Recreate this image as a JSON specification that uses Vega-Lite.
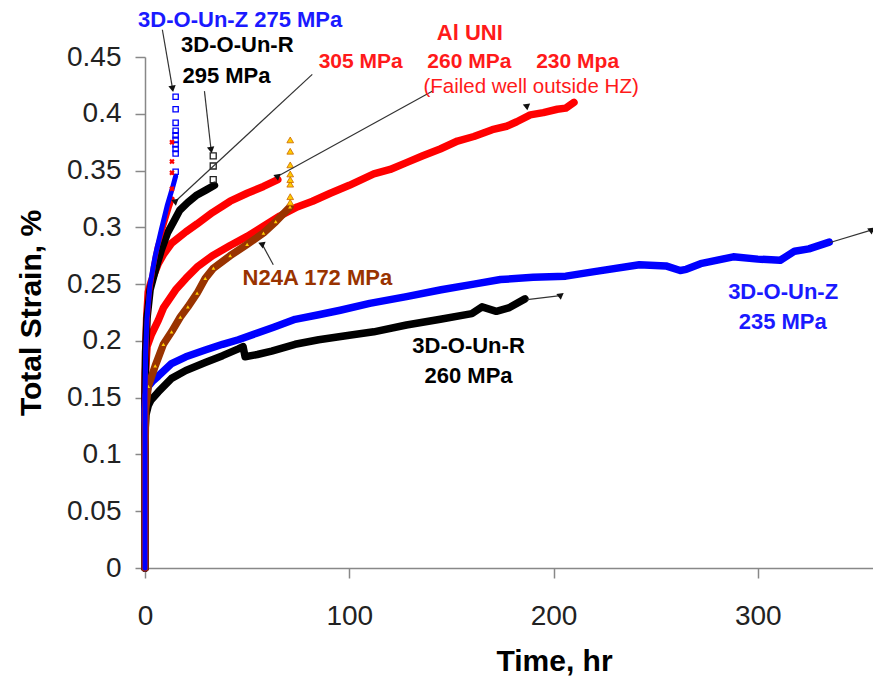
{
  "$schema": "https://vega.github.io/schema/vega-lite/v6.json",
  "width": 728,
  "height": 511,
  "autosize": {"type": "none"},
  "padding": {"left": 145, "top": 57, "right": 0, "bottom": 110},
  "background": "white",
  "config": {"view": {"stroke": null}, "font": "Liberation Sans"},
  "resolve": {"scale": {"color": "independent", "angle": "independent"}},
  "datasets": {
    "curves": [
      {"series": "A230", "t": 0, "s": 0}, {"series": "A230", "t": 0, "s": 0.14}, {"series": "A230", "t": 0.2, "s": 0.172}, {"series": "A230", "t": 1, "s": 0.195}, {"series": "A230", "t": 3, "s": 0.205}, {"series": "A230", "t": 6.5, "s": 0.218}, {"series": "A230", "t": 9, "s": 0.229}, {"series": "A230", "t": 15, "s": 0.245}, {"series": "A230", "t": 20, "s": 0.255}, {"series": "A230", "t": 25.5, "s": 0.265}, {"series": "A230", "t": 33, "s": 0.275}, {"series": "A230", "t": 41.7, "s": 0.284}, {"series": "A230", "t": 50, "s": 0.292}, {"series": "A230", "t": 58, "s": 0.301}, {"series": "A230", "t": 66, "s": 0.31}, {"series": "A230", "t": 74.5, "s": 0.318}, {"series": "A230", "t": 82, "s": 0.323}, {"series": "A230", "t": 90.7, "s": 0.33}, {"series": "A230", "t": 100, "s": 0.337}, {"series": "A230", "t": 112, "s": 0.347}, {"series": "A230", "t": 120, "s": 0.351}, {"series": "A230", "t": 128, "s": 0.357}, {"series": "A230", "t": 136, "s": 0.363}, {"series": "A230", "t": 144.5, "s": 0.369}, {"series": "A230", "t": 153, "s": 0.376}, {"series": "A230", "t": 161, "s": 0.38}, {"series": "A230", "t": 170, "s": 0.386}, {"series": "A230", "t": 177, "s": 0.389}, {"series": "A230", "t": 182, "s": 0.393}, {"series": "A230", "t": 188.6, "s": 0.399}, {"series": "A230", "t": 195, "s": 0.401}, {"series": "A230", "t": 201.8, "s": 0.404}, {"series": "A230", "t": 206, "s": 0.405}, {"series": "A230", "t": 210, "s": 0.41},
      {"series": "A260", "t": 0, "s": 0}, {"series": "A260", "t": 0, "s": 0.15}, {"series": "A260", "t": 0.3, "s": 0.19}, {"series": "A260", "t": 0.8, "s": 0.22}, {"series": "A260", "t": 1.6, "s": 0.243}, {"series": "A260", "t": 3, "s": 0.252}, {"series": "A260", "t": 6.5, "s": 0.268}, {"series": "A260", "t": 9, "s": 0.276}, {"series": "A260", "t": 13, "s": 0.286}, {"series": "A260", "t": 20, "s": 0.296}, {"series": "A260", "t": 25.5, "s": 0.303}, {"series": "A260", "t": 33, "s": 0.313}, {"series": "A260", "t": 41.7, "s": 0.323}, {"series": "A260", "t": 50, "s": 0.33}, {"series": "A260", "t": 58, "s": 0.336}, {"series": "A260", "t": 65, "s": 0.342},
      {"series": "R295", "t": 0, "s": 0}, {"series": "R295", "t": 0, "s": 0.15}, {"series": "R295", "t": 0.3, "s": 0.19}, {"series": "R295", "t": 1, "s": 0.22}, {"series": "R295", "t": 2.5, "s": 0.245}, {"series": "R295", "t": 5, "s": 0.262}, {"series": "R295", "t": 8, "s": 0.28}, {"series": "R295", "t": 11, "s": 0.295}, {"series": "R295", "t": 14, "s": 0.305}, {"series": "R295", "t": 17, "s": 0.315}, {"series": "R295", "t": 21, "s": 0.322}, {"series": "R295", "t": 25, "s": 0.328}, {"series": "R295", "t": 30, "s": 0.333}, {"series": "R295", "t": 34, "s": 0.337},
      {"series": "Z235", "t": 0, "s": 0}, {"series": "Z235", "t": 0, "s": 0.14}, {"series": "Z235", "t": 0.5, "s": 0.152}, {"series": "Z235", "t": 1.6, "s": 0.16}, {"series": "Z235", "t": 4, "s": 0.165}, {"series": "Z235", "t": 6.5, "s": 0.169}, {"series": "Z235", "t": 13, "s": 0.18}, {"series": "Z235", "t": 20, "s": 0.186}, {"series": "Z235", "t": 29.5, "s": 0.192}, {"series": "Z235", "t": 38, "s": 0.197}, {"series": "Z235", "t": 45.7, "s": 0.201}, {"series": "Z235", "t": 55, "s": 0.207}, {"series": "Z235", "t": 63, "s": 0.212}, {"series": "Z235", "t": 73.5, "s": 0.219}, {"series": "Z235", "t": 85, "s": 0.223}, {"series": "Z235", "t": 95.6, "s": 0.227}, {"series": "Z235", "t": 110, "s": 0.233}, {"series": "Z235", "t": 128, "s": 0.239}, {"series": "Z235", "t": 145, "s": 0.245}, {"series": "Z235", "t": 161, "s": 0.25}, {"series": "Z235", "t": 174, "s": 0.254}, {"series": "Z235", "t": 190, "s": 0.256}, {"series": "Z235", "t": 206, "s": 0.257}, {"series": "Z235", "t": 220, "s": 0.261}, {"series": "Z235", "t": 242, "s": 0.267}, {"series": "Z235", "t": 255, "s": 0.266}, {"series": "Z235", "t": 262, "s": 0.262}, {"series": "Z235", "t": 265, "s": 0.263}, {"series": "Z235", "t": 272, "s": 0.268}, {"series": "Z235", "t": 288, "s": 0.274}, {"series": "Z235", "t": 300, "s": 0.272}, {"series": "Z235", "t": 311, "s": 0.271}, {"series": "Z235", "t": 318, "s": 0.279}, {"series": "Z235", "t": 325, "s": 0.281}, {"series": "Z235", "t": 335, "s": 0.287},
      {"series": "R260", "t": 0, "s": 0}, {"series": "R260", "t": 0, "s": 0.12}, {"series": "R260", "t": 0.5, "s": 0.135}, {"series": "R260", "t": 1.6, "s": 0.143}, {"series": "R260", "t": 3, "s": 0.148}, {"series": "R260", "t": 6.5, "s": 0.155}, {"series": "R260", "t": 13, "s": 0.167}, {"series": "R260", "t": 20, "s": 0.174}, {"series": "R260", "t": 29.5, "s": 0.181}, {"series": "R260", "t": 38, "s": 0.187}, {"series": "R260", "t": 45.7, "s": 0.193}, {"series": "R260", "t": 48, "s": 0.195}, {"series": "R260", "t": 49, "s": 0.186}, {"series": "R260", "t": 55, "s": 0.188}, {"series": "R260", "t": 62, "s": 0.191}, {"series": "R260", "t": 73.5, "s": 0.197}, {"series": "R260", "t": 85, "s": 0.201}, {"series": "R260", "t": 100, "s": 0.205}, {"series": "R260", "t": 112, "s": 0.208}, {"series": "R260", "t": 128, "s": 0.214}, {"series": "R260", "t": 144.6, "s": 0.219}, {"series": "R260", "t": 160, "s": 0.224}, {"series": "R260", "t": 165, "s": 0.23}, {"series": "R260", "t": 172, "s": 0.226}, {"series": "R260", "t": 178, "s": 0.229}, {"series": "R260", "t": 186, "s": 0.237},
      {"series": "N172", "t": 0, "s": 0}, {"series": "N172", "t": 0, "s": 0.05}, {"series": "N172", "t": 0, "s": 0.1}, {"series": "N172", "t": 0.3, "s": 0.14}, {"series": "N172", "t": 1.6, "s": 0.16}, {"series": "N172", "t": 5, "s": 0.178}, {"series": "N172", "t": 9, "s": 0.197}, {"series": "N172", "t": 13, "s": 0.208}, {"series": "N172", "t": 17.3, "s": 0.221}, {"series": "N172", "t": 21, "s": 0.23}, {"series": "N172", "t": 25.5, "s": 0.242}, {"series": "N172", "t": 29.5, "s": 0.255}, {"series": "N172", "t": 33.5, "s": 0.264}, {"series": "N172", "t": 41.7, "s": 0.275}, {"series": "N172", "t": 50, "s": 0.285}, {"series": "N172", "t": 58, "s": 0.295}, {"series": "N172", "t": 64, "s": 0.305}, {"series": "N172", "t": 71, "s": 0.318},
      {"series": "R305", "t": 0, "s": 0}, {"series": "R305", "t": 0, "s": 0.14}, {"series": "R305", "t": 0.3, "s": 0.18}, {"series": "R305", "t": 1, "s": 0.215}, {"series": "R305", "t": 2, "s": 0.24}, {"series": "R305", "t": 4, "s": 0.265}, {"series": "R305", "t": 6, "s": 0.283}, {"series": "R305", "t": 9, "s": 0.3}, {"series": "R305", "t": 12, "s": 0.318}, {"series": "R305", "t": 13.3, "s": 0.325},
      {"series": "Z275", "t": 0, "s": 0}, {"series": "Z275", "t": 0, "s": 0.15}, {"series": "Z275", "t": 0.3, "s": 0.19}, {"series": "Z275", "t": 1, "s": 0.22}, {"series": "Z275", "t": 2.5, "s": 0.25}, {"series": "Z275", "t": 5, "s": 0.275}, {"series": "Z275", "t": 8, "s": 0.298}, {"series": "Z275", "t": 11, "s": 0.32}, {"series": "Z275", "t": 13.5, "s": 0.335}, {"series": "Z275", "t": 15, "s": 0.345}
    ],
    "tails": [
      {"series": "Z275", "t": 15, "s": 0.349}, {"series": "Z275", "t": 15, "s": 0.365}, {"series": "Z275", "t": 15, "s": 0.369}, {"series": "Z275", "t": 15, "s": 0.373}, {"series": "Z275", "t": 15, "s": 0.377}, {"series": "Z275", "t": 15, "s": 0.381}, {"series": "Z275", "t": 15, "s": 0.385}, {"series": "Z275", "t": 15, "s": 0.392}, {"series": "Z275", "t": 15, "s": 0.404}, {"series": "Z275", "t": 15, "s": 0.415},
      {"series": "R305", "t": 13.2, "s": 0.334}, {"series": "R305", "t": 13.2, "s": 0.348}, {"series": "R305", "t": 13.2, "s": 0.358}, {"series": "R305", "t": 13.2, "s": 0.375},
      {"series": "R295", "t": 33.4, "s": 0.342}, {"series": "R295", "t": 33.4, "s": 0.354}, {"series": "R295", "t": 33.4, "s": 0.363},
      {"series": "N172", "t": 71.1, "s": 0.322}, {"series": "N172", "t": 71.1, "s": 0.327}, {"series": "N172", "t": 71.1, "s": 0.338}, {"series": "N172", "t": 71.1, "s": 0.342}, {"series": "N172", "t": 71.1, "s": 0.347}, {"series": "N172", "t": 71.1, "s": 0.355}, {"series": "N172", "t": 71.1, "s": 0.367}, {"series": "N172", "t": 71.1, "s": 0.377}
    ],
    "arrows": [
      {"id": "a1", "t": 8.5, "s": 0.474, "t2": 13.4, "s2": 0.423},
      {"id": "a2", "t": 29.1, "s": 0.42, "t2": 32.3, "s2": 0.369},
      {"id": "a3", "t": 81.9, "s": 0.4347, "t2": 14.8, "s2": 0.3228},
      {"id": "a4", "t": 140.6, "s": 0.4198, "t2": 64.8, "s2": 0.3448},
      {"id": "a5", "t": 186.9, "s": 0.4068, "t2": 186.9, "s2": 0.4068},
      {"id": "a6", "t": 62.8, "s": 0.267, "t2": 57.4, "s2": 0.285},
      {"id": "a7", "t": 335.4, "s": 0.2866, "t2": 355.5, "s2": 0.2975},
      {"id": "a8", "t": 187.1, "s": 0.2363, "t2": 203.3, "s2": 0.2399}
    ],
    "labels": [
      {"text": "3D-O-Un-Z 275 MPa", "t": 46.6, "s": 0.4826, "grp": "blue"},
      {"text": "3D-O-Un-R", "t": 45.2, "s": 0.4606, "grp": "black"},
      {"text": "295 MPa", "t": 39.9, "s": 0.4333, "grp": "black"},
      {"text": "Al UNI", "t": 159, "s": 0.4707, "grp": "red"},
      {"text": "N24A 172 MPa", "t": 84.4, "s": 0.2555, "grp": "brown"},
      {"text": "3D-O-Un-Z", "t": 312.4, "s": 0.2429, "grp": "blue"},
      {"text": "235 MPa", "t": 312.2, "s": 0.2165, "grp": "blue"},
      {"text": "3D-O-Un-R", "t": 158.4, "s": 0.1959, "grp": "black"},
      {"text": "260 MPa", "t": 158.4, "s": 0.1695, "grp": "black"}
    ],
    "stresses": [
      {"text": "305 MPa", "t": 105.6, "s": 0.4458},
      {"text": "260 MPa", "t": 158.8, "s": 0.4458},
      {"text": "230 Mpa", "t": 211.8, "s": 0.4458}
    ],
    "notes": [
      {"text": "(Failed well outside HZ)", "t": 189, "s": 0.4238}
    ]
  },
  "encoding": {
    "x": {
      "field": "t", "type": "quantitative",
      "scale": {"domain": [0, 356.4], "nice": false, "zero": false},
      "axis": {
        "values": [0, 100, 200, 300], "title": "Time, hr", "grid": false,
        "titleFontSize": 30, "titleFontWeight": "bold", "titleColor": "#000000", "titleFont": "Liberation Sans",
        "labelFontSize": 28, "labelColor": "#222222", "labelFont": "Liberation Sans",
        "tickSize": 10, "tickColor": "#888888", "tickWidth": 1.5, "domainColor": "#888888", "domainWidth": 1.5,
        "labelPadding": 24, "titlePadding": 16, "titleX": 409, "labelFlush": false
      }
    },
    "y": {
      "field": "s", "type": "quantitative",
      "scale": {"domain": [0, 0.45], "nice": false, "zero": false},
      "axis": {
        "values": [0, 0.05, 0.1, 0.15, 0.2, 0.25, 0.3, 0.35, 0.4, 0.45], "format": "~g", "title": "Total Strain, %", "grid": false,
        "titleFontSize": 30, "titleFontWeight": "bold", "titleColor": "#000000", "titleFont": "Liberation Sans",
        "labelFontSize": 28, "labelColor": "#222222", "labelFont": "Liberation Sans",
        "tickSize": 10, "tickColor": "#888888", "tickWidth": 1.5, "domainColor": "#888888", "domainWidth": 1.5,
        "labelPadding": 14, "titlePadding": 20, "labelFlush": false
      }
    }
  },
  "layer": [
    {
      "data": {"name": "curves"},
      "transform": [{"filter": "datum.series !== 'Z275' && datum.series !== 'R305'"}],
      "mark": {"type": "line", "strokeWidth": 7.5, "strokeJoin": "round", "strokeCap": "round"},
      "encoding": {
        "color": {"field": "series", "type": "nominal", "legend": null,
          "scale": {"domain": ["A230", "A260", "R295", "Z235", "R260", "N172", "R305", "Z275"], "range": ["#ff0000", "#ff0000", "#000000", "#0000ff", "#000000", "#993300", "#ff0000", "#0000ff"]}},
        "order": {"value": null}
      }
    },
    {
      "data": {"name": "curves"},
      "transform": [{"filter": "datum.series === 'N172'"}],
      "mark": {"type": "point", "shape": "triangle-up", "filled": true, "color": "#ffcc00", "size": 14, "opacity": 1}
    },
    {
      "data": {"name": "curves"},
      "transform": [{"filter": "datum.series === 'Z275' || datum.series === 'R305'"}],
      "mark": {"type": "line", "strokeWidth": 5, "strokeJoin": "round", "strokeCap": "round"},
      "encoding": {
        "color": {"field": "series", "type": "nominal", "legend": null,
          "scale": {"domain": ["A230", "A260", "R295", "Z235", "R260", "N172", "R305", "Z275"], "range": ["#ff0000", "#ff0000", "#000000", "#0000ff", "#000000", "#993300", "#ff0000", "#0000ff"]}},
        "order": {"value": null}
      }
    },
    {
      "data": {"name": "tails"},
      "transform": [{"filter": "datum.series === 'Z275'"}],
      "mark": {"type": "point", "shape": "square", "filled": false, "color": "#0000ff", "size": 28, "strokeWidth": 1.3, "opacity": 1}
    },
    {
      "data": {"name": "tails"},
      "transform": [{"filter": "datum.series === 'R295'"}],
      "mark": {"type": "point", "shape": "square", "filled": false, "color": "#222222", "size": 36, "strokeWidth": 1.3, "opacity": 1}
    },
    {
      "data": {"name": "tails"},
      "transform": [{"filter": "datum.series === 'R305'"}],
      "mark": {"type": "point", "shape": "cross", "angle": 45, "filled": true, "color": "#ff0000", "size": 30, "opacity": 1}
    },
    {
      "data": {"name": "tails"},
      "transform": [{"filter": "datum.series === 'N172'"}],
      "mark": {"type": "point", "shape": "triangle-up", "filled": true, "fill": "#ffcc00", "stroke": "#cc6600", "strokeWidth": 0.8, "size": 45, "opacity": 1}
    },
    {
      "data": {"name": "arrows"},
      "mark": {"type": "rule", "color": "#333333", "strokeWidth": 1.2},
      "encoding": {"x2": {"field": "t2"}, "y2": {"field": "s2"}}
    },
    {
      "data": {"name": "arrows"},
      "mark": {"type": "point", "shape": "triangle", "filled": true, "color": "#111111", "size": 55, "opacity": 1},
      "encoding": {
        "x": {"field": "t2", "type": "quantitative"},
        "y": {"field": "s2", "type": "quantitative"},
        "angle": {"field": "id", "type": "nominal", "legend": null,
          "scale": {"domain": ["a1", "a2", "a3", "a4", "a5", "a6", "a7", "a8"], "range": [170, 173, 227, 241, 180, 331, 73, 83]}}
      }
    },
    {
      "data": {"name": "labels"},
      "mark": {"type": "text", "font": "Liberation Sans", "fontWeight": "bold", "fontSize": 22, "align": "center", "baseline": "middle"},
      "encoding": {
        "text": {"field": "text"},
        "color": {"field": "grp", "type": "nominal", "legend": null,
          "scale": {"domain": ["blue", "black", "red", "brown"], "range": ["#1a1aff", "#000000", "#ff1a1a", "#993300"]}}
      }
    },
    {
      "data": {"name": "stresses"},
      "mark": {"type": "text", "font": "Liberation Sans", "fontWeight": "bold", "fontSize": 21, "align": "center", "baseline": "middle", "color": "#ff1a1a"},
      "encoding": {"text": {"field": "text"}}
    },
    {
      "data": {"name": "notes"},
      "mark": {"type": "text", "font": "Liberation Sans", "fontWeight": "normal", "fontSize": 20.5, "align": "center", "baseline": "middle", "color": "#ff1a1a"},
      "encoding": {"text": {"field": "text"}}
    }
  ]
}
